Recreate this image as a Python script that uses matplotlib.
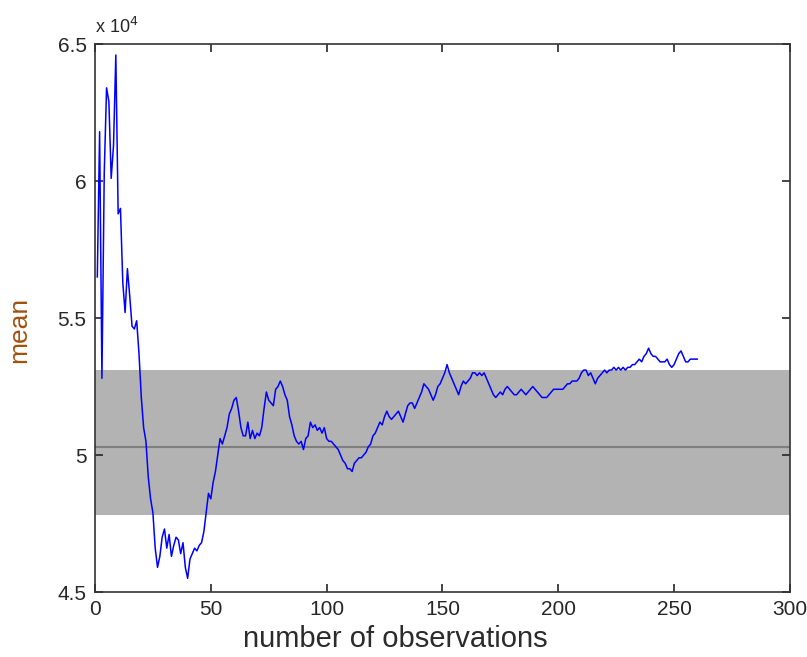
import numpy as np
import matplotlib
matplotlib.use("Agg")
import matplotlib.pyplot as plt
from matplotlib.ticker import FuncFormatter

plt.rcParams['font.family'] = ['Liberation Sans Narrow', 'Liberation Sans', 'DejaVu Sans']

# running mean after each observation, in units of 10^4
running_mean = [
    5.65, 6.18, 5.28, 6.03, 6.34, 6.29, 6.01, 6.13, 6.46, 5.88,
    5.90, 5.63, 5.52, 5.68, 5.58, 5.47, 5.46, 5.49, 5.37, 5.21,
    5.10, 5.05, 4.92, 4.84, 4.79, 4.66, 4.59, 4.63, 4.70, 4.73,
    4.66, 4.71, 4.63, 4.67, 4.70, 4.69, 4.64, 4.68, 4.59, 4.55,
    4.62, 4.64, 4.66, 4.65, 4.67, 4.68, 4.72, 4.79, 4.86, 4.84,
    4.90, 4.94, 5.00, 5.06, 5.04, 5.07, 5.10, 5.15, 5.17, 5.20,
    5.21, 5.16, 5.10, 5.07, 5.07, 5.12, 5.06, 5.09, 5.06, 5.08,
    5.07, 5.10, 5.17, 5.23, 5.20, 5.19, 5.18, 5.24, 5.25, 5.27,
    5.25, 5.22, 5.20, 5.14, 5.11, 5.07, 5.05, 5.04, 5.05, 5.02,
    5.06, 5.07, 5.12, 5.10, 5.11, 5.09, 5.10, 5.08, 5.10, 5.06,
    5.05, 5.05, 5.04, 5.03, 5.02, 5.00, 4.98, 4.97, 4.95, 4.95,
    4.94, 4.97, 4.98, 4.99, 4.99, 5.00, 5.01, 5.03, 5.04, 5.07,
    5.08, 5.10, 5.12, 5.11, 5.14, 5.16, 5.14, 5.13, 5.14, 5.15,
    5.16, 5.14, 5.12, 5.15, 5.18, 5.19, 5.19, 5.17, 5.19, 5.21,
    5.23, 5.26, 5.25, 5.24, 5.22, 5.20, 5.22, 5.25, 5.26, 5.28,
    5.30, 5.33, 5.30, 5.28, 5.26, 5.24, 5.22, 5.25, 5.27, 5.26,
    5.27, 5.28, 5.30, 5.30, 5.29, 5.30, 5.29, 5.30, 5.28, 5.26,
    5.24, 5.22, 5.21, 5.22, 5.23, 5.22, 5.24, 5.25, 5.24, 5.23,
    5.22, 5.22, 5.23, 5.24, 5.23, 5.22, 5.23, 5.24, 5.25, 5.24,
    5.23, 5.22, 5.21, 5.21, 5.21, 5.22, 5.23, 5.24, 5.24, 5.24,
    5.24, 5.24, 5.25, 5.26, 5.26, 5.27, 5.27, 5.27, 5.28, 5.30,
    5.31, 5.31, 5.29, 5.30, 5.28, 5.26, 5.28, 5.29, 5.30, 5.31,
    5.30, 5.31, 5.31, 5.32, 5.31, 5.32, 5.31, 5.32, 5.31, 5.32,
    5.32, 5.33, 5.33, 5.34, 5.35, 5.34, 5.36, 5.37, 5.39, 5.37,
    5.36, 5.36, 5.35, 5.34, 5.34, 5.34, 5.35, 5.33, 5.32, 5.33,
    5.35, 5.37, 5.38, 5.36, 5.34, 5.34, 5.35, 5.35, 5.35, 5.35,
]

# population mean and band around it (units of 10^4)
band_low = 4.78
band_high = 5.31
pop_mean = 5.03

x_ticks = [0, 50, 100, 150, 200, 250, 300]
y_ticks = [4.5, 5.0, 5.5, 6.0, 6.5]

scale = 1e4
means = np.array(running_mean) * scale
n_obs = np.arange(1, len(means) + 1)

fig = plt.figure(figsize=(8.07, 6.57), dpi=100)
ax = fig.add_axes([0.1177, 0.0989, 0.8611, 0.8341])

ax.axhspan(band_low * scale, band_high * scale, color='#b3b3b3', lw=0, zorder=1)
ax.axhline(pop_mean * scale, color='#7f7f7f', lw=1.5, zorder=2)
ax.plot(n_obs, means, color='#0000ff', lw=1.1, zorder=3)

ax.set_xlim(0, 300)
ax.set_ylim(4.5 * scale, 6.5 * scale)
ax.set_xticks(x_ticks)
ax.set_yticks([v * scale for v in y_ticks])
ax.yaxis.set_major_formatter(FuncFormatter(lambda v, p: '%g' % (v / scale)))

ax.tick_params(direction='in', length=6, width=1.2, top=True, right=True,
               labelsize=15, colors='#262626', pad=6)
for s in ax.spines.values():
    s.set_color('#333333')
    s.set_linewidth(1.2)

ax.text(0.0, 1.012, r'x 10$^4$', transform=ax.transAxes, fontsize=13,
        color='#262626', ha='left', va='bottom')

ax.set_xlabel('number of observations', fontsize=21, color='#2b2b2b')
ax.xaxis.set_label_coords(0.432, -0.06)
ax.set_ylabel('mean', fontsize=19, color='#a0520f')
ax.yaxis.set_label_coords(-0.092, 0.478)

fig.savefig('out.png', dpi=100)
